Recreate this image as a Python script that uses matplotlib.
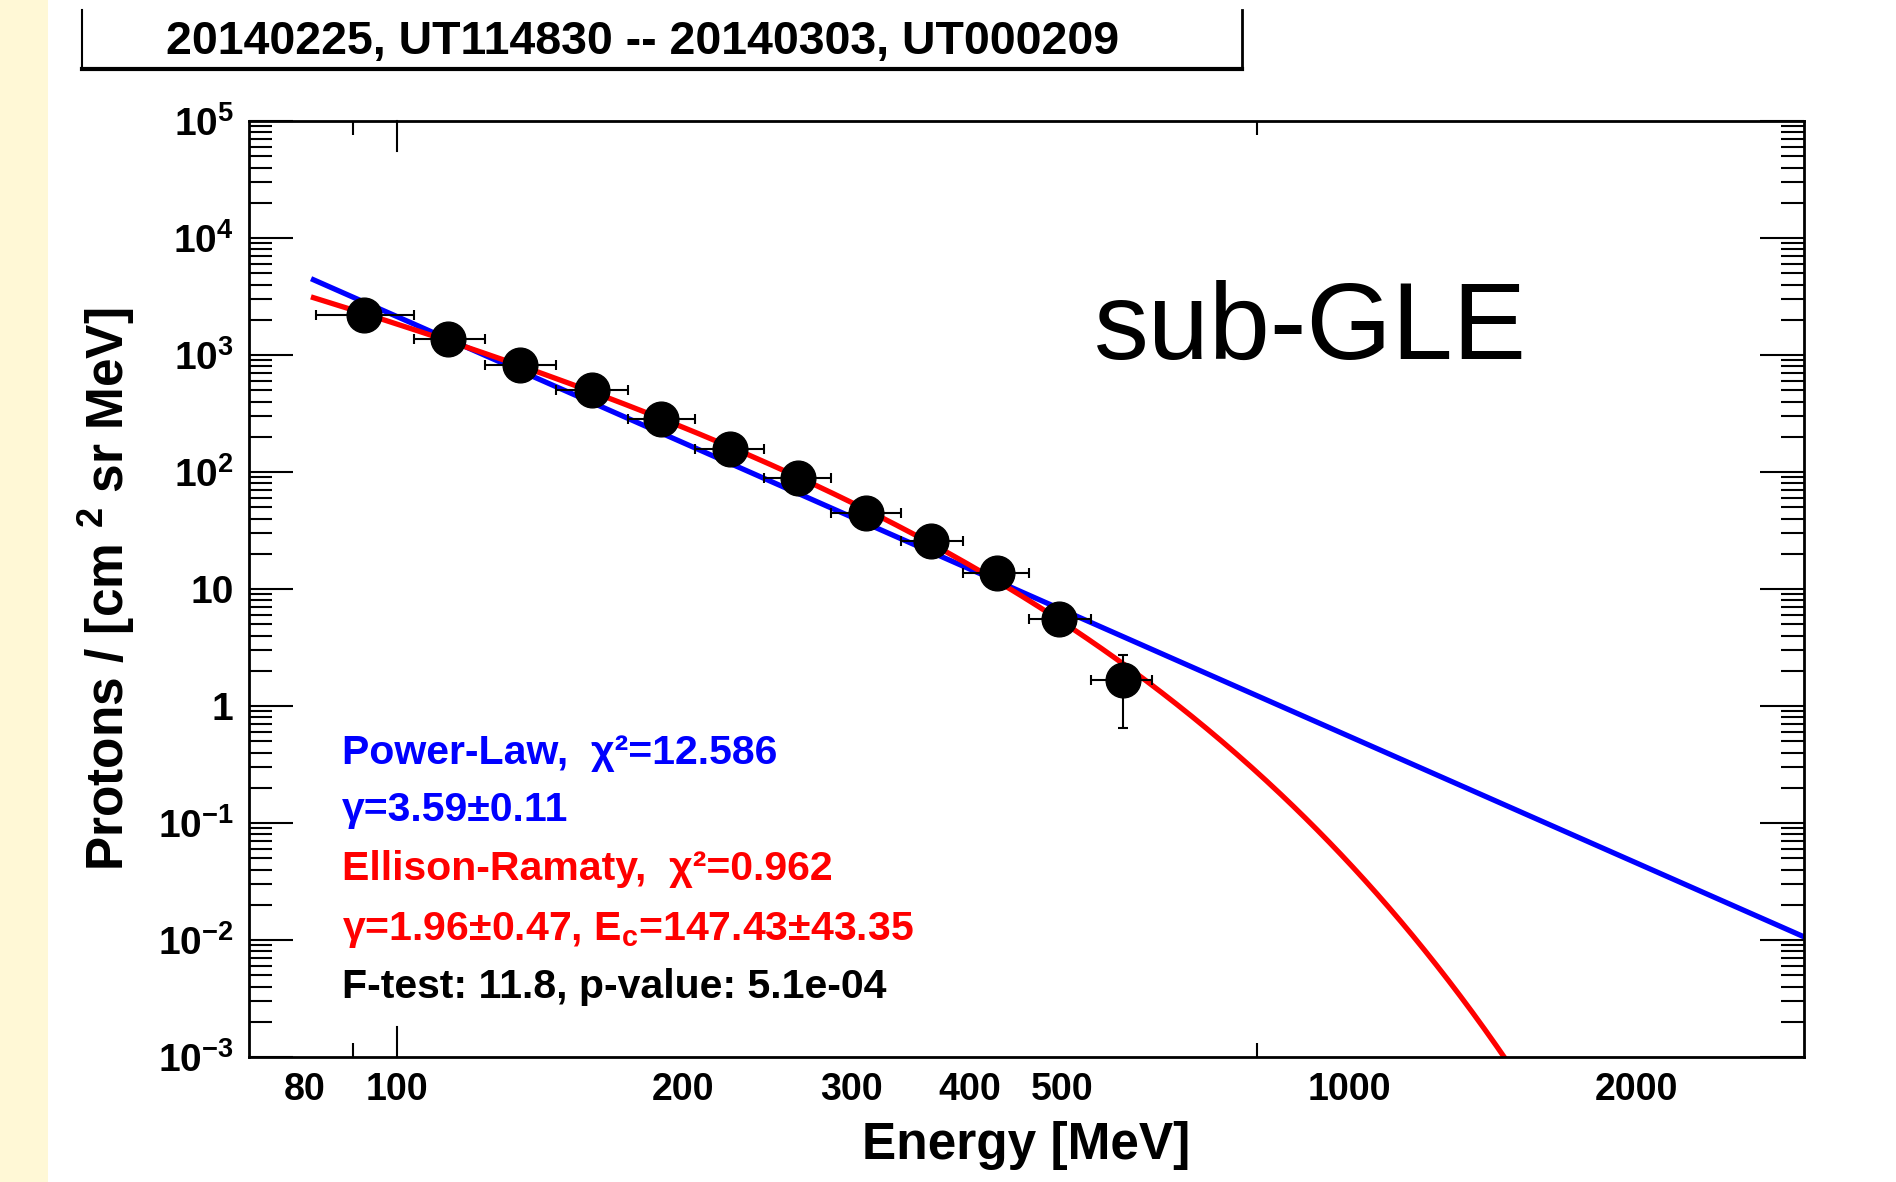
import matplotlib
matplotlib.use("Agg")
import matplotlib.pyplot as plt
import numpy as np
from matplotlib.lines import Line2D
from matplotlib.patches import Rectangle
from matplotlib.ticker import FixedLocator, FuncFormatter, LogLocator, NullFormatter

plt.rcParams["font.family"] = ["Liberation Sans", "DejaVu Sans"]
plt.rcParams["font.weight"] = "bold"
plt.rcParams["mathtext.fontset"] = "custom"
plt.rcParams["mathtext.rm"] = "Liberation Sans:bold"
plt.rcParams["mathtext.it"] = "Liberation Sans:bold:italic"
plt.rcParams["mathtext.bf"] = "Liberation Sans:bold"

# proton spectrum: bin centres / edges [MeV] and flux
energy = [92.4, 113.2, 134.8, 160.4, 189.3, 223.9, 263.6, 310.8, 363.8, 427.0, 496.0, 578.0]
bin_lo = [82.4, 104.2, 123.9, 147.0, 174.8, 205.5, 243.0, 286.0, 338.0, 393.0, 461.0, 535.0]
bin_hi = [104.2, 123.9, 147.0, 174.8, 205.5, 243.0, 286.0, 338.0, 393.0, 461.0, 535.0, 621.0]
flux = [2218, 1362, 817, 501, 283, 158, 88.3, 44.3, 25.6, 13.6, 5.52, 1.68]
flux_err = [70, 50, 35, 25, 16, 10, 6.5, 3.8, 2.6, 1.8, 1.5, 1.03]

# fit parameters
pl_gamma, pl_lognorm = 3.59, 10.51
er_gamma, er_ecut, er_lognorm = 1.96, 147.43, 7.48
fit_emin, fit_emax = 81.8, 3000.0

xtick_labels = [80, 100, 200, 300, 400, 500, 1000, 2000]
xtick_marks = [80, 90, 200, 300, 500, 800, 2000]

W, H = 1896, 1182


def px(x, y):
    return x / W, 1 - y / H


fig = plt.figure(figsize=(W / 100, H / 100), dpi=100)
fig.patches.append(Rectangle((0, 0), 48 / W, 1, transform=fig.transFigure,
                             facecolor="#fff8d6", edgecolor="none", zorder=0))

ax = fig.add_axes([249 / W, 1 - 1057 / H, (1804 - 249) / W, 936 / H])
ax.set_xscale("log")
ax.set_yscale("log")
ax.set_xlim(70, 3000)
ax.set_ylim(1e-3, 1e5)

e_fit = np.logspace(np.log10(fit_emin), np.log10(fit_emax), 500)
power_law = 10 ** pl_lognorm * e_fit ** -pl_gamma
ellison = 10 ** er_lognorm * e_fit ** -er_gamma * np.exp(-e_fit / er_ecut)
ax.plot(e_fit, power_law, color="#0000ff", lw=3.8, zorder=2)
ax.plot(e_fit, ellison, color="#ff0000", lw=3.8, zorder=2)

e = np.array(energy)
xerr = [e - np.array(bin_lo), np.array(bin_hi) - e]
ax.errorbar(energy, flux, xerr=xerr, yerr=flux_err, fmt="o", color="black",
            ms=25, elinewidth=1.5, capsize=3.5, capthick=1.5, zorder=3)

for s in ax.spines.values():
    s.set_linewidth(2.0)

# x axis: labels without marks, separate short marks
ax.xaxis.set_major_locator(FixedLocator(xtick_labels))
ax.xaxis.set_major_formatter(FuncFormatter(lambda v, p: f"{int(round(v))}"))
ax.xaxis.set_minor_locator(FixedLocator(xtick_marks))
ax.xaxis.set_minor_formatter(NullFormatter())
ax.tick_params(axis="x", which="major", length=0, pad=11, labelsize=27)
ax.tick_params(axis="x", which="minor", length=10, width=1.5, direction="in",
               top=True, bottom=True)
for y0, y1 in [(0, 0.032), (1 - 0.032, 1)]:
    ax.plot([100, 100], [y0, y1], transform=ax.get_xaxis_transform(),
            color="black", lw=1.5, clip_on=False, zorder=4)


def ylab(v, p):
    n = int(round(np.log10(v)))
    if n == 0:
        return "1"
    if n == 1:
        return "10"
    return rf"$10^{{{n}}}$"


ax.yaxis.set_major_locator(LogLocator(base=10, numticks=20))
ax.yaxis.set_minor_locator(LogLocator(base=10, subs=np.arange(2, 10), numticks=20))
ax.yaxis.set_major_formatter(FuncFormatter(ylab))
ax.yaxis.set_minor_formatter(NullFormatter())
ax.tick_params(axis="y", which="major", length=31.5, width=1.5, direction="in",
               left=True, right=True, pad=11, labelsize=28)
ax.tick_params(axis="y", which="minor", length=16.5, width=1.5, direction="in",
               left=True, right=True)

ax.set_xlabel("Energy [MeV]", fontsize=37, fontweight="bold")
ax.xaxis.set_label_coords(0.5, -0.068)
ax.set_ylabel(r"Protons / [cm $^{2}$ sr MeV]", fontsize=37, fontweight="bold")
ax.yaxis.set_label_coords(-0.072, 0.5)

# fit summary
lines = [
    ("Power-Law,  χ²=12.586", "#0000ff", 764),
    ("γ=3.59±0.11", "#0000ff", 821),
    ("Ellison-Ramaty,  χ²=0.962", "#ff0000", 880),
    (r"γ=1.96±0.47, E$_{\mathrm{c}}$=147.43±43.35", "#ff0000", 940),
    ("F-test: 11.8, p-value: 5.1e-04", "black", 998),
]
for txt, col, yb in lines:
    fig.text(*px(342, yb), txt, color=col, fontsize=29.5, fontweight="bold",
             va="baseline", ha="left")

fig.text(*px(1094, 359), "sub-GLE", fontsize=79, fontweight="normal",
         va="baseline", ha="left", color="black")

# date range box at the top
bl, br, bb, bt = 82, 1242, 69, 10
fig.add_artist(Line2D([bl / W, bl / W], [1 - bt / H, 1 - bb / H], color="black", lw=1.5))
fig.add_artist(Line2D([br / W, br / W], [1 - bt / H, 1 - bb / H], color="black", lw=2.0))
fig.add_artist(Line2D([bl / W, br / W], [1 - bb / H, 1 - bb / H], color="black", lw=3.0))
fig.text(*px(166, 54), "20140225, UT114830 -- 20140303, UT000209", fontsize=33.5,
         fontweight="bold", va="baseline", ha="left")

fig.savefig("out.png", dpi=100)
